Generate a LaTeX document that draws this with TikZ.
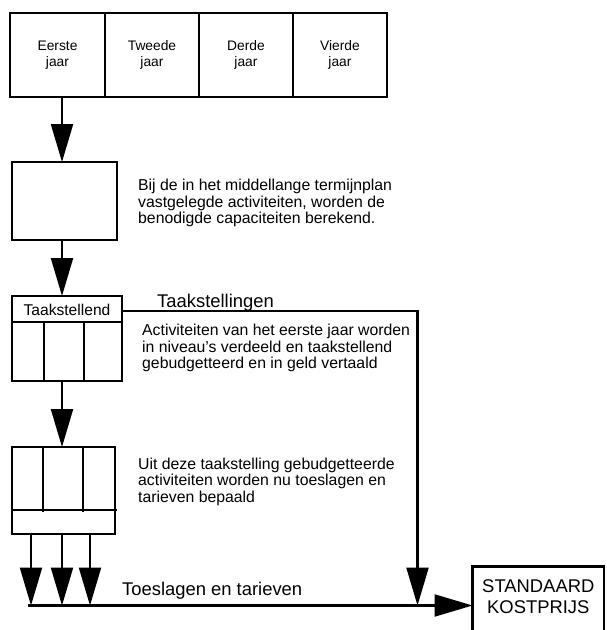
\documentclass[tikz,border=0pt]{standalone}
\usepackage{fontspec}
\setmainfont{Liberation Sans}
\usetikzlibrary{arrows.meta}

\tikzset{
  box/.style={draw, line width=2.6pt, inner sep=0pt, outer sep=0pt},
  inner/.style={line width=2.3pt},
  arr/.style={line width=2.2pt, -{Triangle[length=38pt,width=22pt]}},
  yearlbl/.style={anchor=base, inner sep=0pt, font=\fontsize{13.8}{16.5}\selectfont},
  body/.style={anchor=base west, inner sep=0pt, font=\fontsize{15.8}{16.5}\selectfont},
  big/.style={inner sep=0pt, font=\fontsize{18.4}{20.5}\selectfont},
}

\begin{document}
\begin{tikzpicture}[x=1pt, y=-1pt]
\useasboundingbox (0,0) rectangle (606,630);

% planning horizon: four years
\node[box, minimum width=95pt, minimum height=84pt] (y1) at (57.5,55) {};
\node[box, minimum width=94pt, minimum height=84pt] (y2) at (152,55) {};
\node[box, minimum width=94pt, minimum height=84pt] (y3) at (246,55) {};
\node[box, minimum width=94pt, minimum height=84pt] (y4) at (340,55) {};
\node[yearlbl] (y1a) at (57.5,50) {Eerste};
\node[yearlbl] (y1b) at (57.5,66.5) {jaar};
\node[yearlbl] (y2a) at (152,50) {Tweede};
\node[yearlbl] (y2b) at (152,66.5) {jaar};
\node[yearlbl] (y3a) at (246,50) {Derde};
\node[yearlbl] (y3b) at (246,66.5) {jaar};
\node[yearlbl] (y4a) at (340,50) {Vierde};
\node[yearlbl] (y4b) at (340,66.5) {jaar};

% capacity box
\node[box, minimum width=105pt, minimum height=78pt] (b2) at (64.5,201) {};

% budgeting box with header and three levels
\node[box, minimum width=110pt, minimum height=85pt] (b3) at (67,338.5) {};
\draw[inner] ([yshift=-26pt]b3.north west) -- ([yshift=-26pt]b3.north east);
\draw[inner] ([xshift=32pt,yshift=-26pt]b3.north west) -- ([xshift=32pt]b3.south west);
\draw[inner] ([xshift=72pt,yshift=-26pt]b3.north west) -- ([xshift=72pt]b3.south west);
\node[inner sep=0pt, anchor=base, font=\fontsize{15.6}{16.5}\selectfont] (hdr) at (67,315) {Taakstellend};

% rates box with three levels and a footer
\node[box, minimum width=103pt, minimum height=87pt] (b4) at (63.5,490.5) {};
\draw[inner] ([yshift=-63pt]b4.north west) -- ([xshift=2pt,yshift=-63pt]b4.north east);
\draw[inner] ([xshift=31pt]b4.north west) -- ([xshift=31pt,yshift=-65pt]b4.north west);
\draw[inner] ([xshift=71pt]b4.north west) -- ([xshift=71pt,yshift=-65pt]b4.north west);

% standard cost price (runs off the lower edge)
\node[box, minimum width=131.5pt, minimum height=68pt] (sk) at (538.25,600.5) {};
\node[big, anchor=base] (sk1) at (538.3,592.3) {STANDAARD};
\node[big, anchor=base] (sk2) at (538.3,613.3) {KOSTPRIJS};

% helper coordinates
\coordinate (ax) at (62,0);
\coordinate (base) at (28,605.5);
\coordinate (corner) at (417.5,311);
\path (b4.south west) ++(19,0) coordinate (s1) ++(31,0) coordinate (s2) ++(28,0) coordinate (s3);

% main flow
\draw[arr] (ax |- y1.south) -- (ax |- b2.north);
\draw[arr] (ax |- b2.south) -- (ax |- b3.north);
\draw[arr] (ax |- b3.south) -- (ax |- b4.north);

% three rate arrows onto the bottom line
\draw[arr] (s1) -- (s1 |- base);
\draw[arr] (s2) -- (s2 |- base);
\draw[arr] (s3) -- (s3 |- base);

% targets line
\draw[arr] ([yshift=-15pt]b3.north east) -- (corner) -- (corner |- base);

% bottom line into the cost price
\draw[arr] (base) -- (sk.west |- base);

% labels
\node[big, anchor=base west] (lt) at (157,307) {Taakstellingen};
\node[big, anchor=base west] (lb) at (122,595.7) {Toeslagen en tarieven};

\node[body] (p1) at (138,190.5) {Bij de in het middellange termijnplan};
\node[body] (p2) at (138,207) {vastgelegde activiteiten, worden de};
\node[body] (p3) at (138,223.5) {benodigde capaciteiten berekend.};

\node[body] (q1) at (142,335.5) {Activiteiten van het eerste jaar worden};
\node[body] (q2) at (142,352) {in niveau’s verdeeld en taakstellend};
\node[body] (q3) at (142,368.5) {gebudgetteerd en in geld vertaald};

\node[body] (r1) at (138,469) {Uit deze taakstelling gebudgetteerde};
\node[body] (r2) at (138,485.5) {activiteiten worden nu toeslagen en};
\node[body] (r3) at (138,502) {tarieven bepaald};
\end{tikzpicture}
\end{document}
